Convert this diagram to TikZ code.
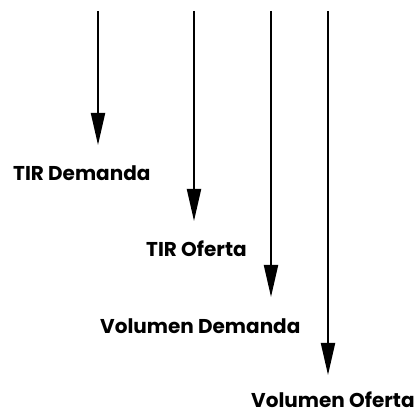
\documentclass[tikz,border=0pt]{standalone}
\usepackage{fontspec}
\newfontfamily\labfont{Poppins}
\usetikzlibrary{arrows.meta}
\begin{document}
\begin{tikzpicture}[x=1pt,y=-1pt,
  flow/.style={line width=2pt,-{Triangle[length=32pt,width=14pt]}},
  lab/.style={font=\labfont\bfseries\fontsize{20}{24}\selectfont,inner sep=0pt,anchor=base west}]
\useasboundingbox (0,0) rectangle (416,412);
% arrow start and end points
\coordinate (s1) at (98,11);  \coordinate (e1) at (98,145);
\coordinate (s2) at (194,11); \coordinate (e2) at (194,221);
\coordinate (s3) at (271,11); \coordinate (e3) at (271,297);
\coordinate (s4) at (328,11); \coordinate (e4) at (328,375);
% labels
\node[lab] (l1) at (13,181) {TIR Demanda};
\node[lab] (l2) at (146,257) {TIR Oferta};
\node[lab] (l3) at (100,334) {Volumen Demanda};
\node[lab] (l4) at (251,407) {Volumen Oferta};
% arrows
\draw[flow] (s1) -- (e1);
\draw[flow] (s2) -- (e2);
\draw[flow] (s3) -- (e3);
\draw[flow] (s4) -- (e4);
\end{tikzpicture}
\end{document}
